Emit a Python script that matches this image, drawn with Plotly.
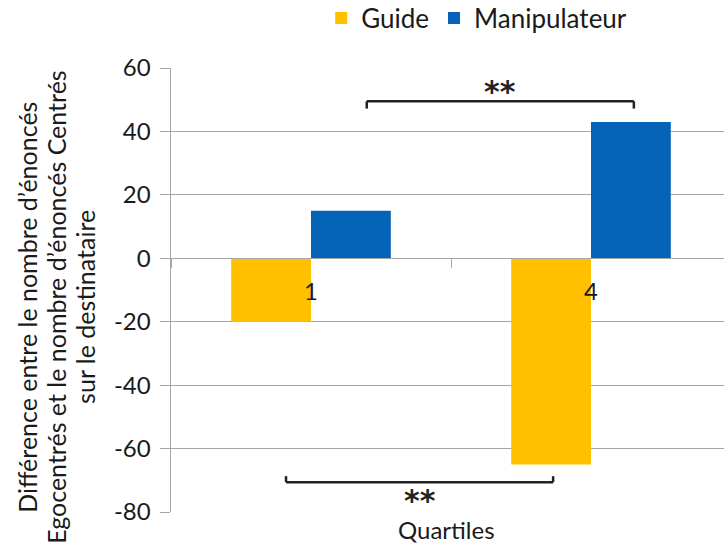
import plotly.graph_objects as go

categories = ["1", "4"]
guide = [-20, -65]
manipulateur = [15, 43]
y_ticks = [-80, -60, -40, -20, 0, 20, 40, 60]
y_tick_text = ["-80", "-60", "-40", "-20", "0", "20", "40", "60"]
y_title_lines = ["Différence entre le nombre d’énoncés",
                 "Egocentrés et le nombre d’énoncés Centrés",
                 "sur le destinataire"]

FONT = "Lato"
GRID = "#A6A6A6"
W, H = 724, 547
L, R, T, B = 171, 0, 68, 35

fig = go.Figure()
fig.add_trace(go.Bar(name="Guide", x=categories, y=guide, marker_color="#FFC000",
                     marker_line_width=0))
fig.add_trace(go.Bar(name="Manipulateur", x=categories, y=manipulateur, marker_color="#0563B7",
                     marker_line_width=0))

ymin, ymax = -80, 60
zero_pos = (0 - ymin) / (ymax - ymin)

fig.update_layout(
    width=W, height=H,
    margin=dict(l=L, r=R, t=T, b=B, autoexpand=False),
    paper_bgcolor="white", plot_bgcolor="white",
    barmode="group", bargap=0.43, bargroupgap=0,
    font=dict(family=FONT, size=24, color="#1a1a1a"),
    showlegend=True,
    hovermode=False,
    legend=dict(orientation="h", x=0.2716, y=1.1126, xanchor="left", yanchor="middle",
                font=dict(size=26), itemwidth=30, traceorder="normal"),
    xaxis=dict(type="category", range=[-0.5, 1.475], anchor="free", position=zero_pos,
               showline=True, linecolor=GRID, linewidth=1, showgrid=False,
               ticks="outside", ticklen=9, tickcolor=GRID, tickson="boundaries",
               ticklabelstandoff=12, tickfont=dict(size=24), zeroline=False),
    yaxis=dict(range=[ymin, ymax], tickvals=y_ticks, ticktext=y_tick_text,
               showgrid=True, gridcolor=GRID,
               gridwidth=1, showline=True, linecolor=GRID, linewidth=1.5,
               ticks="outside", ticklen=10, tickcolor=GRID, zeroline=False,
               tickfont=dict(size=24), ticklabelstandoff=4),
)

# axis titles
fig.add_annotation(text="Quartiles", xref="paper", yref="paper", x=0.499, y=-0.04,
                   xanchor="center", yanchor="middle", showarrow=False, font=dict(size=24))
for xp, line in zip([-0.2604, -0.208, -0.1555], y_title_lines):
    fig.add_annotation(text=line, xref="paper", yref="paper", x=xp, y=0.462, textangle=-90,
                       xanchor="center", yanchor="middle", showarrow=False, font=dict(size=25))

# significance brackets
def bracket(x0, x1, y, yend):
    for (a, b, c, d) in [(x0, y, x1, y), (x0, y, x0, yend), (x1, y, x1, yend)]:
        fig.add_shape(type="line", xref="paper", yref="y", x0=a, y0=b, x1=c, y1=d,
                      line=dict(color="#222222", width=2.5))

bracket(0.354, 0.837, 49.5, 47.2)
bracket(0.208, 0.691, -70.6, -68.7)
fig.add_annotation(text="<b>**</b>", xref="paper", yref="y", x=0.595, y=52.5, showarrow=False,
                   font=dict(family="DejaVu Sans", size=30, color="#222222"), yanchor="middle")
fig.add_annotation(text="<b>**</b>", xref="paper", yref="y", x=0.45, y=-76.5, showarrow=False,
                   font=dict(family="DejaVu Sans", size=30, color="#222222"), yanchor="middle")

fig.write_html("out.html", config={"displayModeBar": False, "staticPlot": True},
               post_script="document.body.style.margin='0';")
